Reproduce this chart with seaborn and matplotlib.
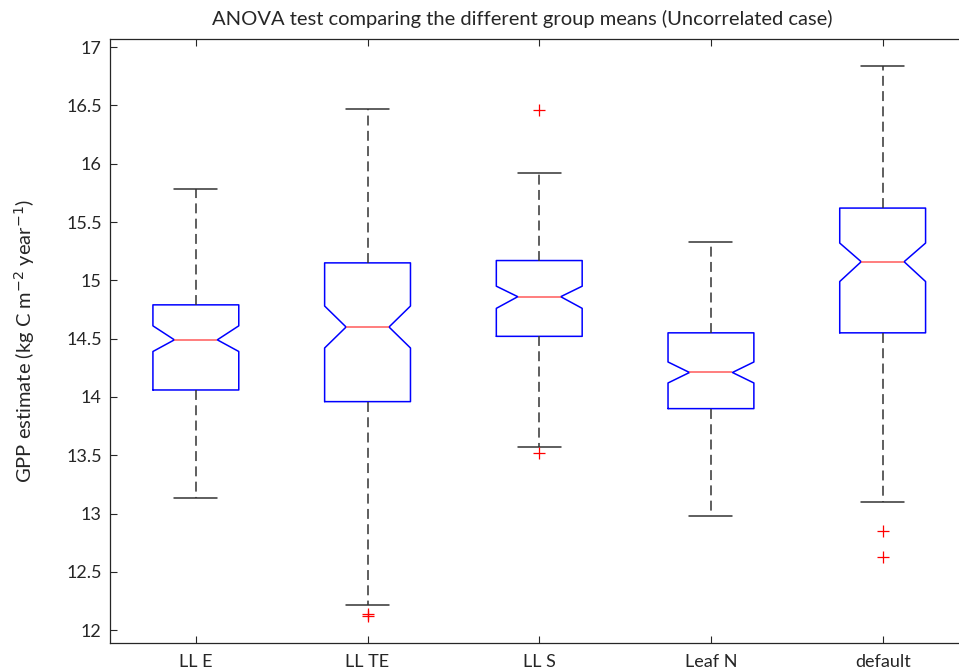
import matplotlib
matplotlib.use("Agg")
import matplotlib.pyplot as plt
import seaborn as sns

# Box stats (MATLAB notched boxplot)
groups = ["LL E", "LL TE", "LL S", "Leaf N", "default"]
whisk_lo = [13.13, 12.22, 13.57, 12.98, 13.10]
q1 = [14.06, 13.96, 14.52, 13.90, 14.55]
notch_lo = [14.39, 14.42, 14.76, 14.12, 14.99]
median = [14.49, 14.60, 14.86, 14.21, 15.16]
notch_hi = [14.61, 14.78, 14.95, 14.30, 15.32]
q3 = [14.79, 15.15, 15.17, 14.55, 15.62]
whisk_hi = [15.78, 16.47, 15.92, 15.33, 16.84]
outliers = [[], [12.14, 12.12], [16.46, 13.52], [], [12.85, 12.63]]

sns.set_theme(style="ticks")
plt.rcParams["font.family"] = ["Lato", "DejaVu Sans"]

stats = []
for i, g in enumerate(groups):
    stats.append({
        "label": g, "whislo": whisk_lo[i], "q1": q1[i], "med": median[i],
        "q3": q3[i], "whishi": whisk_hi[i], "cilo": notch_lo[i],
        "cihi": notch_hi[i], "fliers": outliers[i],
    })

fig = plt.figure(figsize=(9.59, 6.70), dpi=100)
ax = fig.add_axes([110 / 959, 27 / 670, 858.5 / 959, 604 / 670])

ax.bxp(
    stats, positions=range(1, 6), widths=0.5, shownotches=True,
    boxprops=dict(color="#0000ff", linewidth=1.1),
    medianprops=dict(color="#ff5a5a", linewidth=1.1),
    whiskerprops=dict(color="#333333", linewidth=1.1, linestyle=(0, (6.5, 3.5))),
    capprops=dict(color="#333333", linewidth=1.1),
    flierprops=dict(marker="+", markeredgecolor="red", markersize=9,
                    markeredgewidth=0.9, linestyle="none"),
)

ax.set_xlim(0.5, 5.5)
ax.set_ylim(11.89, 17.07)
ax.set_yticks([12, 12.5, 13, 13.5, 14, 14.5, 15, 15.5, 16, 16.5, 17])
ax.set_yticklabels(["12", "12.5", "13", "13.5", "14", "14.5", "15", "15.5",
                    "16", "16.5", "17"])
ax.set_xticks(range(1, 6))
ax.set_xticklabels(groups)
ax.tick_params(direction="in", length=5, width=0.8, color="#262626",
               labelcolor="#262626", labelsize=13, top=True, right=True)
ax.tick_params(axis="x", pad=8)
ax.tick_params(axis="y", pad=6)
for s in ax.spines.values():
    s.set_color("#262626")
    s.set_linewidth(0.9)

ax.set_ylabel("GPP estimate (kg C m$^{-2}$ year$^{-1}$)", fontsize=14.5,
              color="#262626")
ax.yaxis.set_label_coords((37 - 110) / 858.5, 0.5)
fig.text(522 / 959, 1 - 19 / 670,
         "ANOVA test comparing the different group means (Uncorrelated case)",
         ha="center", va="center", fontsize=14.5, color="#262626")

fig.savefig("out.png", dpi=100)
